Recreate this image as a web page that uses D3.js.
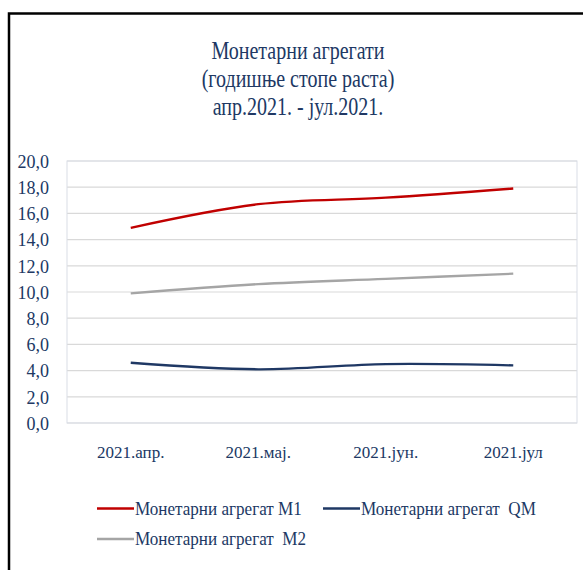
<!DOCTYPE html>
<html>
<head>
<meta charset="utf-8">
<script src="https://d3js.org/d3.v7.min.js"></script>
</head>
<body style="margin:0;background:#fff">
<div id="chart"></div>
<script>
const months = ['2021.апр.', '2021.мај.', '2021.јун.', '2021.јул'];
const m1 = [14.9, 16.7, 17.2, 17.9];
const qm = [4.6, 4.1, 4.5, 4.4];
const m2 = [9.9, 10.6, 11.0, 11.4];
const yTicks = [0, 2, 4, 6, 8, 10, 12, 14, 16, 18, 20];
const titleLines = ['Монетарни агрегати', '(годишње стопе раста)', 'апр.2021. - јул.2021.'];

const series = [
  { name: 'Монетарни агрегат M1', values: m1, color: '#c00000' },
  { name: 'Монетарни агрегат  QM', values: qm, color: '#1f3864' },
  { name: 'Монетарни агрегат  M2', values: m2, color: '#a5a5a5' }
];

const FONT = '"Liberation Serif", "Times New Roman", serif';
const TXT = '#203864';

const width = 583, height = 570;
const margin = { top: 161, right: 6, bottom: 147, left: 67 };
const w = width - margin.left - margin.right;
const h = height - margin.top - margin.bottom;

const svg = d3.select('#chart').append('svg')
  .attr('width', width)
  .attr('height', height);

// outer frame (only left + top edges are visible in the crop)
svg.append('path')
  .attr('d', `M9,${height} V13.5 H${width}`)
  .attr('fill', 'none')
  .attr('stroke', '#000')
  .attr('stroke-width', 2.5);

// title - narrow, tall serif
svg.append('g')
  .attr('transform', 'translate(298, 0) scale(0.77, 1)')
  .selectAll('text')
  .data(titleLines)
  .enter()
  .append('text')
  .attr('x', 0)
  .attr('y', (d, i) => 59 + i * 28)
  .attr('text-anchor', 'middle')
  .style('font-family', FONT)
  .style('font-size', '26px')
  .style('fill', TXT)
  .text(d => d);

const g = svg.append('g')
  .attr('transform', `translate(${margin.left}, ${margin.top})`);

const x = d3.scaleBand()
  .domain(months)
  .range([0, w]);

const y = d3.scaleLinear()
  .domain([0, 20])
  .range([h, 0]);

// grid lines
g.append('g')
  .selectAll('line')
  .data(yTicks)
  .enter()
  .append('line')
  .attr('x1', 0)
  .attr('x2', w)
  .attr('y1', d => y(d))
  .attr('y2', d => y(d))
  .attr('stroke', '#d9d9d9')
  .attr('stroke-width', 1.2);

// plot area border
g.append('rect')
  .attr('width', w)
  .attr('height', h)
  .attr('fill', 'none')
  .attr('stroke', '#d9dde6')
  .attr('stroke-width', 1);

// Y axis labels
const yAxis = g.append('g')
  .attr('transform', 'translate(-15, 0)')
  .call(d3.axisLeft(y).tickValues(yTicks).tickSize(0).tickFormat(d => d3.format('.1f')(d).replace('.', ',')));
yAxis.select('.domain').remove();
yAxis.selectAll('text')
  .attr('dy', '0.35em')
  .style('font-family', FONT)
  .style('font-size', '18px')
  .style('fill', TXT);

// X axis labels
const xAxis = g.append('g')
  .attr('transform', `translate(0, ${h + 20})`)
  .call(d3.axisBottom(x).tickSize(0));
xAxis.select('.domain').remove();
xAxis.selectAll('text')
  .style('font-family', FONT)
  .style('font-size', '17px')
  .style('fill', TXT);

// lines (Excel smoothed)
const line = d3.line()
  .x((d, i) => x(months[i]) + x.bandwidth() / 2)
  .y(d => y(d))
  .curve(d3.curveCatmullRom.alpha(0.5));

g.selectAll('.series')
  .data(series)
  .enter()
  .append('path')
  .attr('class', 'series')
  .attr('d', d => line(d.values))
  .attr('fill', 'none')
  .attr('stroke', d => d.color)
  .attr('stroke-width', 2.3);

// legend
const legendPos = [[97, 508.5], [323, 508.5], [97, 539]];
const items = svg.append('g').selectAll('.legend-item')
  .data(series)
  .enter()
  .append('g')
  .attr('class', 'legend-item')
  .attr('transform', (d, i) => `translate(${legendPos[i][0]}, ${legendPos[i][1]})`);

items.append('line')
  .attr('x1', 0)
  .attr('x2', 37)
  .attr('stroke', d => d.color)
  .attr('stroke-width', 2.3);

items.append('text')
  .attr('transform', 'translate(38, 0) scale(0.9, 1)')
  .attr('dy', '0.33em')
  .style('font-family', FONT)
  .style('font-size', '19px')
  .style('fill', TXT)
  .style('white-space', 'pre')
  .text(d => d.name);
</script>
</body>
</html>
